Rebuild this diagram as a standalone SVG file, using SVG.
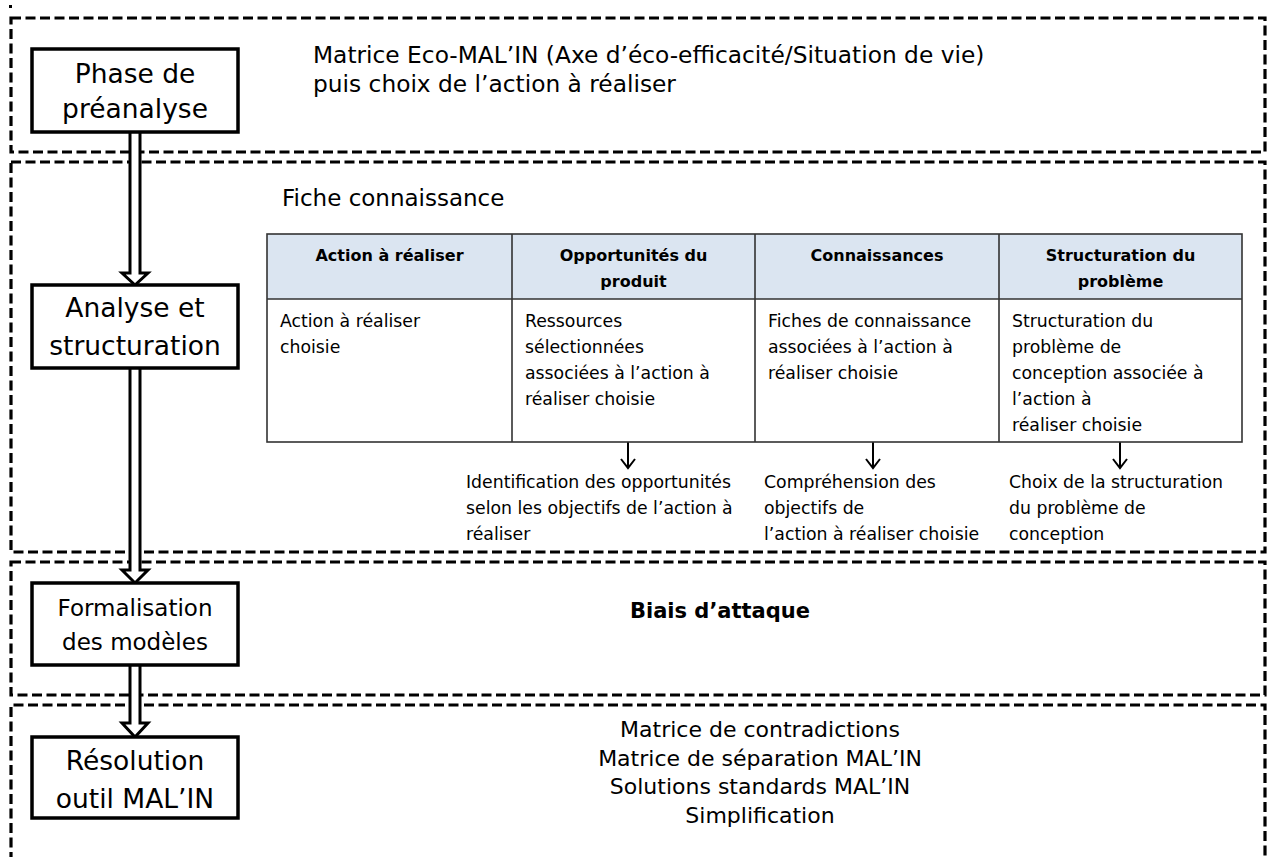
<svg xmlns="http://www.w3.org/2000/svg" width="1269" height="857" viewBox="0 0 1269 857">
  <style>
    .frame { fill: none; stroke: #000; stroke-width: 3.2; stroke-dasharray: 10 4.5; }
    .node { fill: #fff; stroke: #000; stroke-width: 3.5; }
    .t { font-family: "DejaVu Sans", "Liberation Sans", sans-serif; fill: #000; }
    .big { font-size: 26.5px; }
    .mid { font-size: 23px; }
    .sm { font-size: 17.3px; }
    .hd { font-size: 16px; font-weight: bold; }
    .bold { font-weight: bold; }
    .tbl { fill: none; stroke: #333; stroke-width: 1.6; }
    .dbl { fill: #fff; stroke: #000; stroke-width: 3; stroke-linejoin: miter; }
    .thin { fill: none; stroke: #000; stroke-width: 2; }
  </style>
  <rect width="1269" height="857" fill="#fff"/>
  <rect x="9" y="5" width="3" height="3" fill="#000"/>

  <g id="frames">
    <rect class="frame" x="11" y="18" width="1254" height="134"/>
    <rect class="frame" x="11" y="162" width="1254" height="390"/>
    <rect class="frame" x="11" y="562" width="1254" height="133"/>
    <path class="frame" d="M11,862 V705 H1265 V862"/>
  </g>

  <g id="connectors">
    <path class="dbl" d="M130,132 V273 H122 L135,285 L148,273 H140 V132"/>
    <path class="dbl" d="M130,368 V570 H122 L135,583 L148,570 H140 V368"/>
    <path class="dbl" d="M130,665 V723 H122 L135,737 L148,723 H140 V665"/>
    <path class="thin" d="M628,442 V468 M621,459 L628,468 L635,459"/>
    <path class="thin" d="M873,442 V468 M866,459 L873,468 L880,459"/>
    <path class="thin" d="M1120,442 V468 M1113,459 L1120,468 L1127,459"/>
  </g>

  <g id="node-preanalyse">
    <rect class="node" x="32" y="49" width="206" height="83"/>
    <text class="t big" x="135" y="83" text-anchor="middle">Phase de</text>
    <text class="t big" x="135" y="118" text-anchor="middle">préanalyse</text>
  </g>
  <g id="node-analyse">
    <rect class="node" x="32" y="285" width="206" height="83"/>
    <text class="t big" x="135" y="317" text-anchor="middle">Analyse et</text>
    <text class="t big" x="135" y="355" text-anchor="middle">structuration</text>
  </g>
  <g id="node-formalisation">
    <rect class="node" x="32" y="583" width="206" height="82"/>
    <text class="t mid" x="135" y="616" text-anchor="middle">Formalisation</text>
    <text class="t mid" x="135" y="650" text-anchor="middle">des modèles</text>
  </g>
  <g id="node-resolution">
    <rect class="node" x="32" y="737" width="206" height="81"/>
    <text class="t big" x="135" y="770" text-anchor="middle">Résolution</text>
    <text class="t big" x="135" y="808" text-anchor="middle">outil MAL’IN</text>
  </g>

  <g id="text-preanalyse">
    <text class="t" x="313" y="63" font-size="23.3">Matrice Eco-MAL’IN (Axe d’éco-efficacité/Situation de vie)</text>
    <text class="t" x="313" y="92" font-size="23.3">puis choix de l’action à réaliser</text>
  </g>

  <g id="fiche">
    <text class="t mid" x="282" y="206">Fiche connaissance</text>
    <rect x="267" y="234" width="975" height="65" fill="#dbe5f1"/>
    <rect class="tbl" x="267" y="234" width="975" height="208"/>
    <path class="tbl" d="M267,299 H1242 M512,234 V442 M755,234 V442 M999,234 V442"/>
    <text class="t hd" x="389.5" y="261" text-anchor="middle">Action à réaliser</text>
    <text class="t hd" x="633.5" y="261" text-anchor="middle">Opportunités du</text>
    <text class="t hd" x="633.5" y="287" text-anchor="middle">produit</text>
    <text class="t hd" x="877" y="261" text-anchor="middle">Connaissances</text>
    <text class="t hd" x="1120.5" y="261" text-anchor="middle">Structuration du</text>
    <text class="t hd" x="1120.5" y="287" text-anchor="middle">problème</text>

    <text class="t sm" x="280" y="327">Action à réaliser</text>
    <text class="t sm" x="280" y="353">choisie</text>

    <text class="t sm" x="525" y="327">Ressources</text>
    <text class="t sm" x="525" y="353">sélectionnées</text>
    <text class="t sm" x="525" y="379">associées à l’action à</text>
    <text class="t sm" x="525" y="405">réaliser choisie</text>

    <text class="t sm" x="768" y="327">Fiches de connaissance</text>
    <text class="t sm" x="768" y="353">associées à l’action à</text>
    <text class="t sm" x="768" y="379">réaliser choisie</text>

    <text class="t sm" x="1012" y="327">Structuration du</text>
    <text class="t sm" x="1012" y="353">problème de</text>
    <text class="t sm" x="1012" y="379">conception associée à</text>
    <text class="t sm" x="1012" y="405">l’action à</text>
    <text class="t sm" x="1012" y="431">réaliser choisie</text>

    <text class="t sm" x="466" y="488">Identification des opportunités</text>
    <text class="t sm" x="466" y="514">selon les objectifs de l’action à</text>
    <text class="t sm" x="466" y="540">réaliser</text>

    <text class="t sm" x="764" y="488">Compréhension des</text>
    <text class="t sm" x="764" y="514">objectifs de</text>
    <text class="t sm" x="764" y="540">l’action à réaliser choisie</text>

    <text class="t sm" x="1009" y="488">Choix de la structuration</text>
    <text class="t sm" x="1009" y="514">du problème de</text>
    <text class="t sm" x="1009" y="540">conception</text>
  </g>

  <g id="text-biais">
    <text class="t bold" x="720" y="618" font-size="21" text-anchor="middle">Biais d’attaque</text>
  </g>

  <g id="text-resolution">
    <text class="t" x="760" y="737" font-size="22" text-anchor="middle">Matrice de contradictions</text>
    <text class="t" x="760" y="766" font-size="22" text-anchor="middle">Matrice de séparation MAL’IN</text>
    <text class="t" x="760" y="794" font-size="22" text-anchor="middle">Solutions standards MAL’IN</text>
    <text class="t" x="760" y="823" font-size="22" text-anchor="middle">Simplification</text>
  </g>
</svg>
